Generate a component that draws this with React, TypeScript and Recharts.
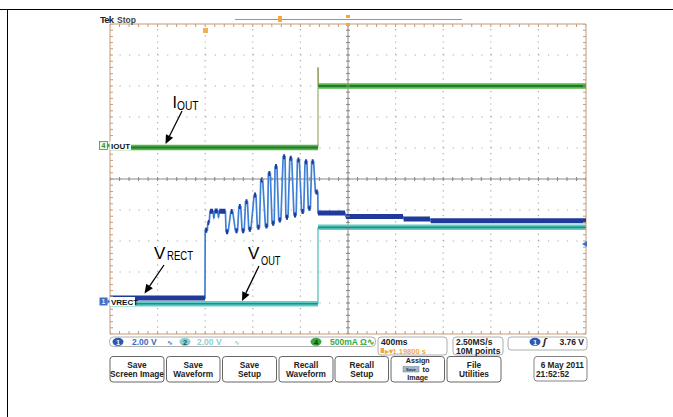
import React from "react";
import { ComposedChart, Line, Scatter, XAxis, YAxis, ReferenceLine } from "recharts";

const W = 673;
const H = 417;

// scope screen: 10 x 10 divisions, 400 ms/div
const SEC_PER_DIV = 0.4;
const H_DIVS = 10;
const V_DIVS = 10;
const T_END = SEC_PER_DIV * H_DIVS;

// channel position (div) and scale (unit/div)
const CH1_POS = 1.15; // VRECT, 2.00 V/div
const CH1_SCALE = 2;
const CH2_POS = 0.95; // VOUT, 2.00 V/div
const CH2_SCALE = 2;
const CH4_POS = 6.0; // IOUT, 500 mA/div
const CH4_SCALE = 0.5;

// plateaus: [start s, end s, level]
const ioutPlateaus: [number, number, number][] = [
  [0, 1.748, 0.01],
  [1.748, 1.748, 1.3],
  [1.751, 4.0, 1.0],
];

const voutPlateaus: [number, number, number][] = [
  [0, 1.748, 0.05],
  [1.748, 4.0, 4.98],
];

const vrectPlateaus: [number, number, number][] = [
  [0, 0.798, 0.02],
  [0.8, 0.818, 4.4],
  [0.822, 0.834, 4.9],
  [0.84, 0.866, 5.62],
  [0.872, 0.874, 5.2],
  [0.88, 0.905, 5.64],
  [0.911, 0.913, 5.25],
  [0.918, 0.97, 5.62],
  [0.975, 0.993, 4.3],
  [1.015, 1.031, 5.6],
  [1.054, 1.072, 4.36],
  [1.083, 1.099, 5.92],
  [1.11, 1.128, 4.36],
  [1.139, 1.155, 6.24],
  [1.166, 1.184, 4.46],
  [1.211, 1.227, 6.66],
  [1.238, 1.256, 4.58],
  [1.267, 1.283, 7.64],
  [1.306, 1.324, 4.66],
  [1.331, 1.347, 8.06],
  [1.362, 1.38, 4.84],
  [1.387, 1.403, 8.5],
  [1.418, 1.436, 5.06],
  [1.455, 1.471, 9.14],
  [1.478, 1.496, 5.24],
  [1.511, 1.527, 9.04],
  [1.546, 1.564, 5.38],
  [1.575, 1.591, 8.92],
  [1.61, 1.628, 5.6],
  [1.639, 1.655, 8.82],
  [1.666, 1.684, 5.82],
  [1.695, 1.711, 8.82],
  [1.726, 1.746, 6.86],
  [1.748, 1.975, 5.5],
  [1.982, 2.462, 5.28],
  [2.468, 2.689, 5.12],
  [2.695, 4.0, 5.0],
];

type Pt = { t: number; y: number | null };

const trace = (p: [number, number, number][], pos: number, scale: number): Pt[] =>
  p.flatMap(([a, b, v]) => [
    { t: a, y: pos + v / scale },
    { t: b, y: pos + v / scale },
  ]);

const dwell = (p: [number, number, number][], pos: number, scale: number): Pt[] =>
  p.flatMap(([a, b, v]) => [
    { t: a, y: pos + v / scale },
    { t: b, y: pos + v / scale },
    { t: b, y: null },
  ]);

const ioutTrace = trace(ioutPlateaus, CH4_POS, CH4_SCALE);
const ioutDwell = dwell(ioutPlateaus, CH4_POS, CH4_SCALE);
const voutTrace = trace(voutPlateaus, CH2_POS, CH2_SCALE);
const voutDwell = dwell(voutPlateaus, CH2_POS, CH2_SCALE);
const vrectTrace = trace(vrectPlateaus, CH1_POS, CH1_SCALE);
const vrectDwell = dwell(vrectPlateaus, CH1_POS, CH1_SCALE);

const gridT = Array.from({ length: H_DIVS + 1 }, (_, i) => i * SEC_PER_DIV);
const gridY = Array.from({ length: V_DIVS + 1 }, (_, i) => i);
const minorT = Array.from({ length: H_DIVS * 5 + 1 }, (_, i) => (i * SEC_PER_DIV) / 5);
const minorY = Array.from({ length: V_DIVS * 5 + 1 }, (_, i) => i / 5);

const centerTicksH = minorT.map((t) => ({ t, y: V_DIVS / 2 }));
const bottomTicks = minorT.map((t) => ({ t, y: 0 }));
const topTicks = minorT.map((t) => ({ t, y: V_DIVS }));
const centerTicksV = minorY.map((y) => ({ t: T_END / 2, y }));
const leftTicks = minorY.map((y) => ({ t: 0, y }));
const rightTicks = minorY.map((y) => ({ t: T_END, y }));

const GRID_DOT = "#a9a9a9";
const BORDER = "#c49a78";
const CENTER = "#8a8a8a";

const tick = (dx1: number, dx2: number, dy1: number, dy2: number, color: string) => (p: any) =>
  <line x1={p.cx + dx1} x2={p.cx + dx2} y1={p.cy + dy1} y2={p.cy + dy2} stroke={color} strokeWidth={1} />;

const SANS = "'Liberation Sans', Arial, sans-serif";

const Arrow = ({ x1, y1, x2, y2 }: { x1: number; y1: number; x2: number; y2: number }) => {
  const a = Math.atan2(y2 - y1, x2 - x1);
  const L = 9;
  const w = 4;
  const bx = x2 - L * Math.cos(a);
  const by = y2 - L * Math.sin(a);
  const px = -Math.sin(a) * w;
  const py = Math.cos(a) * w;
  return (
    <g>
      <line x1={x1} y1={y1} x2={bx} y2={by} stroke="#000" strokeWidth={1.3} />
      <polygon points={`${x2},${y2} ${bx + px},${by + py} ${bx - px},${by - py}`} fill="#000" />
    </g>
  );
};

const buttons = [
  { x: 110, w: 54, lines: ["Save", "Screen Image"] },
  { x: 166.5, w: 53.5, lines: ["Save", "Waveform"] },
  { x: 222.5, w: 54, lines: ["Save", "Setup"] },
  { x: 279, w: 54, lines: ["Recall", "Waveform"] },
  { x: 335, w: 53.5, lines: ["Recall", "Setup"] },
  { x: 447, w: 54, lines: ["File", "Utilities"] },
];

const Overlay = () => (
  <svg width={W} height={H} style={{ position: "absolute", left: 0, top: 0, pointerEvents: "none" }}>
    {/* page frame */}
    <line x1={0} y1={9.5} x2={W} y2={9.5} stroke="#000" strokeWidth={1} />
    <line x1={7.5} y1={9} x2={7.5} y2={H} stroke="#000" strokeWidth={1} />

    {/* header */}
    <text x={100} y={23} fontFamily={SANS} fontSize={9.5} fontWeight={700} letterSpacing={-0.8} fill="#222">Tek</text>
    <text x={117} y={23} fontFamily={SANS} fontSize={8.5} fontWeight={700} fill="#444">Stop</text>
    <line x1={235} y1={19.5} x2={462} y2={19.5} stroke="#6d9fd6" strokeWidth={1} />
    <rect x={278} y={16} width={4} height={6} fill="#f2a83a" />
    <rect x={346} y={15} width={4} height={3} fill="#f2a83a" />
    <rect x={346} y={23} width={4} height={3} fill="#f2a83a" />
    <rect x={203} y={28} width={5} height={5} fill="#f2b050" />

    {/* channel markers */}
    <rect x={99.5} y={141.5} width={8} height={8} fill="#e9f6e0" stroke="#3a9a3a" strokeWidth={0.8} />
    <text x={103.5} y={148} textAnchor="middle" fontFamily={SANS} fontSize={7} fontWeight={700} fill="#2f8f2f">4</text>
    <polygon points="107.5,143 110,145.5 107.5,148" fill="#3a9a3a" />
    <rect x={110} y={141} width={21} height={9} fill="#fff" />
    <text x={111} y={148.5} fontFamily={SANS} fontSize={8} fontWeight={700} fill="#111">IOUT</text>

    <rect x={99.5} y={297.5} width={8} height={8} fill="#3f6fc4" />
    <text x={103.5} y={304} textAnchor="middle" fontFamily={SANS} fontSize={7} fontWeight={700} fill="#dfe9ff">1</text>
    <polygon points="107.5,299 110,301.5 107.5,304" fill="#3f6fc4" />
    <rect x={110} y={297} width={25} height={9} fill="#fff" />
    <text x={111} y={304.5} fontFamily={SANS} fontSize={8} fontWeight={700} fill="#111">VRECT</text>

    <polygon points="582,244 587,241 587,247" fill="#3f6fc4" />

    {/* annotations */}
    <text x={172.5} y={108.3} fontFamily={SANS} fontSize={16} fill="#000">I</text>
    <text x={177} y={110} fontFamily={SANS} fontSize={13} fill="#000" textLength={21.5} lengthAdjust="spacingAndGlyphs">OUT</text>
    <Arrow x1={182} y1={111} x2={165.5} y2={144} />

    <text x={154} y={258.5} fontFamily={SANS} fontSize={17} fill="#000">V</text>
    <text x={167} y={260} fontFamily={SANS} fontSize={13} fill="#000" textLength={26} lengthAdjust="spacingAndGlyphs">RECT</text>
    <Arrow x1={164} y1={265} x2={144.5} y2={293.5} />

    <text x={248} y={258.5} fontFamily={SANS} fontSize={17} fill="#000">V</text>
    <text x={261} y={265} fontFamily={SANS} fontSize={13} fill="#000" textLength={19.5} lengthAdjust="spacingAndGlyphs">OUT</text>
    <Arrow x1={259} y1={266} x2={242} y2={301} />

    {/* status bar */}
    <rect x={109.5} y={337} width={266} height={9.5} rx={4} fill="#fff" stroke="#9a9a9a" strokeWidth={0.8} />
    <ellipse cx={118} cy={341.8} rx={5.5} ry={4} fill="#2b58ad" />
    <text x={118} y={344.8} textAnchor="middle" fontFamily={SANS} fontSize={7.5} fontWeight={700} fill="#e8efff">1</text>
    <text x={132} y={345} fontFamily={SANS} fontSize={8.5} fontWeight={700} fill="#3b69c4">2.00 V</text>
    <text x={167} y={345} fontFamily="'DejaVu Sans'" fontSize={7} fontWeight={700} fill="#3b69c4">∿</text>
    <ellipse cx={185} cy={341.8} rx={5.5} ry={4} fill="#8fcfcf" />
    <text x={185} y={344.8} textAnchor="middle" fontFamily={SANS} fontSize={7.5} fontWeight={700} fill="#1f4f5f">2</text>
    <text x={197} y={345} fontFamily={SANS} fontSize={8.5} fontWeight={700} fill="#8fcfd0">2.00 V</text>
    <text x={234} y={345} fontFamily="'DejaVu Sans'" fontSize={7} fontWeight={700} fill="#8fcfd0">∿</text>
    <ellipse cx={316} cy={341.8} rx={5.5} ry={4} fill="#3aa845" />
    <text x={316} y={344.8} textAnchor="middle" fontFamily={SANS} fontSize={7.5} fontWeight={700} fill="#0d3d10">4</text>
    <text x={330} y={345} fontFamily={SANS} fontSize={8.5} fontWeight={700} fill="#3aa845">500mA Ω∿</text>

    <rect x={378} y={337} width={69} height={18} rx={3} fill="#fff" stroke="#9a9a9a" strokeWidth={0.8} />
    <text x={381} y={344.8} fontFamily={SANS} fontSize={8.5} fontWeight={700} fill="#222">400ms</text>
    <rect x={380.5} y={348} width={3.5} height={5} fill="#f2a83a" />
    <text x={384.5} y={353.5} fontFamily={SANS} fontSize={7.5} fontWeight={700} fill="#f2a83a">▸▾1.19800 s</text>

    <rect x={453} y={337} width={50} height={18} rx={3} fill="#fff" stroke="#9a9a9a" strokeWidth={0.8} />
    <text x={456} y={344.8} fontFamily={SANS} fontSize={8.5} fontWeight={700} fill="#222">2.50MS/s</text>
    <text x={456} y={353.5} fontFamily={SANS} fontSize={8.5} fontWeight={700} fill="#222">10M points</text>

    <rect x={508} y={337} width={79} height={13} rx={3} fill="#fff" stroke="#9a9a9a" strokeWidth={0.8} />
    <ellipse cx={535} cy={341.8} rx={5.5} ry={4} fill="#2b58ad" />
    <text x={535} y={344.8} textAnchor="middle" fontFamily={SANS} fontSize={7.5} fontWeight={700} fill="#e8efff">1</text>
    <text x={543} y={345} fontFamily="'DejaVu Sans'" fontSize={8.5} fontWeight={700} fontStyle="italic" fill="#222">ʃ</text>
    <text x={584} y={345} textAnchor="end" fontFamily={SANS} fontSize={8.5} fontWeight={700} fill="#222">3.76 V</text>

    {/* buttons */}
    {buttons.map((b) => (
      <g key={b.lines.join(" ")}>
        <rect x={b.x} y={356.5} width={b.w} height={25.5} rx={3} fill="#fff" stroke="#555" strokeWidth={0.9} />
        <text x={b.x + b.w / 2} y={368} textAnchor="middle" fontFamily={SANS} fontSize={8.3} fontWeight={700} fill="#222">{b.lines[0]}</text>
        <text x={b.x + b.w / 2} y={376.5} textAnchor="middle" fontFamily={SANS} fontSize={8.3} fontWeight={700} fill="#222">{b.lines[1]}</text>
      </g>
    ))}
    <rect x={391} y={356.5} width={53.5} height={25.5} rx={3} fill="#fff" stroke="#555" strokeWidth={0.9} />
    <text x={417.7} y={363.2} textAnchor="middle" fontFamily={SANS} fontSize={7.2} fontWeight={700} fill="#222">Assign</text>
    <rect x={403} y={366.5} width={16} height={5.5} fill="#9db8c8" stroke="#6a8898" strokeWidth={0.5} />
    <text x={411} y={370.9} textAnchor="middle" fontFamily={SANS} fontSize={4.2} fontWeight={700} fill="#234">Save</text>
    <text x={422.5} y={371.8} fontFamily={SANS} fontSize={7.2} fontWeight={700} fill="#222">to</text>
    <text x={417.7} y={380.4} textAnchor="middle" fontFamily={SANS} fontSize={7.2} fontWeight={700} fill="#222">Image</text>

    <rect x={534} y={356.5} width={53} height={24.5} rx={3} fill="#fff" stroke="#777" strokeWidth={0.9} />
    <text x={584} y={368} textAnchor="end" fontFamily={SANS} fontSize={8.3} fontWeight={700} fill="#222">6 May 2011</text>
    <text x={536} y={376.5} fontFamily={SANS} fontSize={8.3} fontWeight={700} fill="#222">21:52:52</text>
  </svg>
);

const App = () => (
  <div style={{ position: "absolute", left: 0, top: 0, width: W, height: H, background: "#fff", overflow: "hidden" }}>
    <ComposedChart width={W} height={H} margin={{ top: 24, right: 87, bottom: 83, left: 110 }}>
      <XAxis type="number" dataKey="t" domain={[0, T_END]} allowDataOverflow hide />
      <YAxis type="number" domain={[0, V_DIVS]} allowDataOverflow hide />

      {gridT.slice(1, -1).map((t) => (
        <ReferenceLine key={`gx${t}`} x={t} stroke={GRID_DOT} strokeWidth={1.2} strokeDasharray="1.2 5" />
      ))}
      {gridY.slice(1, -1).map((y) => (
        <ReferenceLine key={`gy${y}`} y={y} stroke={GRID_DOT} strokeWidth={1.2} strokeDasharray="1.2 8.32" />
      ))}
      <ReferenceLine x={T_END / 2} stroke={CENTER} strokeWidth={1} />
      <ReferenceLine y={V_DIVS / 2} stroke={CENTER} strokeWidth={1} />
      <ReferenceLine x={0} stroke={BORDER} strokeWidth={1} />
      <ReferenceLine x={T_END} stroke={BORDER} strokeWidth={1} />
      <ReferenceLine y={0} stroke={BORDER} strokeWidth={1} />
      <ReferenceLine y={V_DIVS} stroke={BORDER} strokeWidth={1} />

      <Scatter data={centerTicksH} dataKey="y" isAnimationActive={false} shape={tick(0, 0, -2, 2, CENTER)} />
      <Scatter data={centerTicksV} dataKey="y" isAnimationActive={false} shape={tick(-2, 2, 0, 0, CENTER)} />
      <Scatter data={bottomTicks} dataKey="y" isAnimationActive={false} shape={tick(0, 0, -3, 0, BORDER)} />
      <Scatter data={topTicks} dataKey="y" isAnimationActive={false} shape={tick(0, 0, 0, 3, BORDER)} />
      <Scatter data={leftTicks} dataKey="y" isAnimationActive={false} shape={tick(0, 3, 0, 0, BORDER)} />
      <Scatter data={rightTicks} dataKey="y" isAnimationActive={false} shape={tick(-3, 0, 0, 0, BORDER)} />

      {/* VOUT */}
      <Line data={voutTrace} dataKey="y" type="linear" stroke="#2aa9a4" strokeWidth={1} dot={false} isAnimationActive={false} />
      <Line data={voutDwell} dataKey="y" type="linear" stroke="#62cbc3" strokeWidth={5.5} dot={false} isAnimationActive={false} />
      <Line data={voutDwell} dataKey="y" type="linear" stroke="#16918c" strokeWidth={1.6} dot={false} isAnimationActive={false} />

      {/* IOUT */}
      <Line data={ioutTrace} dataKey="y" type="linear" stroke="#8a9a50" strokeWidth={1} dot={false} isAnimationActive={false} />
      <Line data={ioutDwell} dataKey="y" type="linear" stroke="#57b54a" strokeWidth={5.5} dot={false} isAnimationActive={false} />
      <Line data={ioutDwell} dataKey="y" type="linear" stroke="#1f7a2a" strokeWidth={2} dot={false} isAnimationActive={false} />

      {/* VRECT */}
      <Line data={vrectTrace} dataKey="y" type="linear" stroke="#3f80d6" strokeWidth={1.7} dot={false} isAnimationActive={false} />
      <Line data={vrectDwell} dataKey="y" type="linear" stroke="#20399a" strokeWidth={5} dot={false} isAnimationActive={false} />
    </ComposedChart>
    <Overlay />
  </div>
);

export default App;
